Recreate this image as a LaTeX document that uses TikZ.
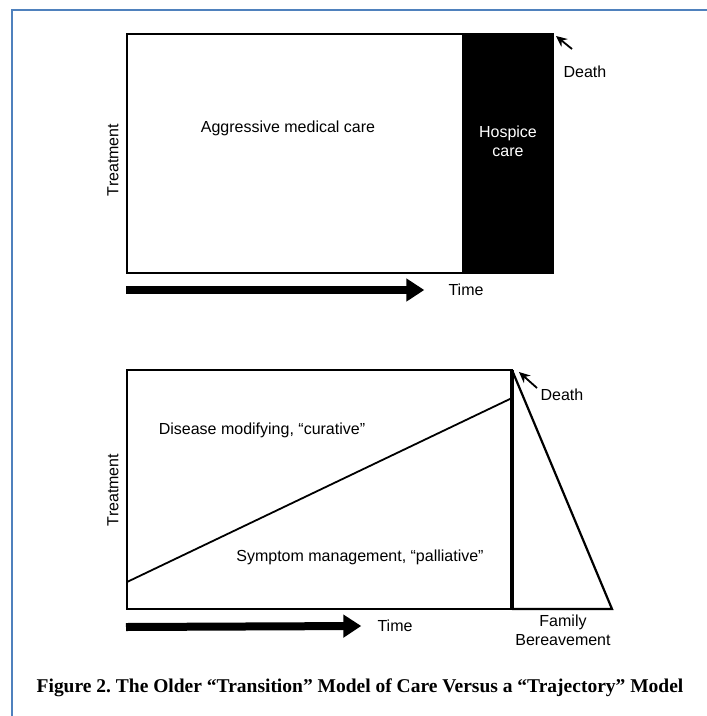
\documentclass[tikz,border=0pt]{standalone}
\usepackage{fontspec}
\setmainfont{Liberation Sans}
\newfontfamily\capfont{Liberation Serif}
\usetikzlibrary{arrows.meta}

\definecolor{pageblue}{RGB}{79,129,189}

\begin{document}
\begin{tikzpicture}[x=1pt, y=-1pt,
  lbl/.style={font=\fontsize{16}{19}\selectfont, inner sep=0pt, align=center},
  frame/.style={draw=black, line width=2.5pt},
  timearr/.style={line width=8pt, -{Triangle[length=18pt,width=22pt]}},
  ptr/.style={line width=1.8pt, -{Stealth[length=11pt,width=10pt]}}
]
  \useasboundingbox (0,0) rectangle (707,716);
  \draw[pageblue, line width=2pt] (12,716) -- (12,10) -- (707,10);

  % transition model
  \fill[black] (462,34) rectangle (553,273);
  \draw[frame] (127,34) rectangle (553,273);
  \coordinate (death1pt) at (556,36);
  \coordinate (death1tail) at (572,49);
  \node[lbl] (aggr) at (288,128) {Aggressive medical care};
  \node[lbl, text=white] (hosp) at (508,141) {Hospice\\care};
  \node[lbl, rotate=90] (treat1) at (113,160) {Treatment};
  \node[lbl] (death1) at (585,72) {Death};
  \node[lbl] (time1) at (466,290) {Time};
  \coordinate (time1start) at (126,290);
  \draw[ptr] (death1tail) -- (death1pt);
  \draw[timearr] (time1start) -- ([xshift=-24pt]time1.west);

  % trajectory model
  \draw[frame] (127,370) rectangle (512,609);
  \coordinate (curvL) at (127,582);
  \coordinate (curvR) at (512,398);
  \coordinate (dtop) at (512,370);
  \coordinate (dbot) at (512,609);
  \coordinate (bereave) at (612,609);
  \draw[line width=1.8pt] (curvL) -- (curvR);
  \draw[line width=2.2pt, line join=miter] (dtop) -- (bereave) -- (dbot);
  \draw[line width=4pt] (dtop) -- (dbot);
  \node[lbl] (cure) at (262,430) {Disease modifying, “curative”};
  \node[lbl] (pall) at (360,557) {Symptom management, “palliative”};
  \node[lbl, rotate=90] (treat2) at (113,490) {Treatment};
  \node[lbl] (death2) at (562,395) {Death};
  \coordinate (death2pt) at (519,372);
  \coordinate (death2tail) at (537,388);
  \draw[ptr] (death2tail) -- (death2pt);
  \node[lbl] (time2) at (395,626) {Time};
  \coordinate (time2start) at (126,627);
  \draw[timearr] (time2start) -- ([xshift=-16pt]time2.west);
  \node[lbl] (family) at (563,630) {Family\\Bereavement};

  \node[font=\capfont\bfseries\fontsize{19.5}{23}\selectfont, inner sep=0pt] (caption) at (360,688)
    {\frenchspacing Figure 2. The Older “Transition” Model of Care Versus a “Trajectory” Model};
\end{tikzpicture}
\end{document}
